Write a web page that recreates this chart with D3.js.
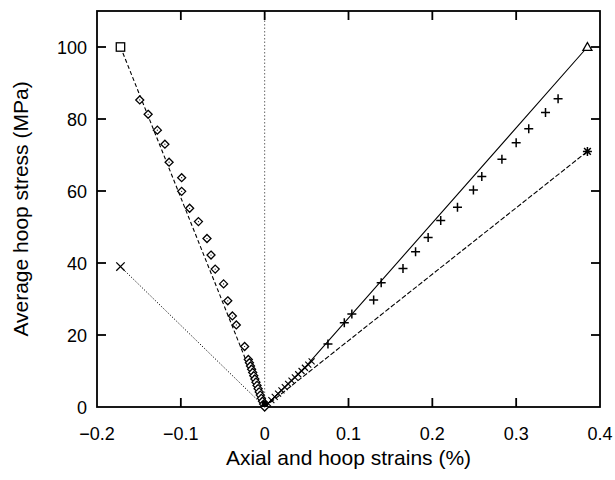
<!DOCTYPE html>
<html>
<head>
<meta charset="utf-8">
<script src="https://cdn.jsdelivr.net/npm/d3@7/dist/d3.min.js"></script>
<style>
  html, body { margin: 0; padding: 0; background: #fff; }
  svg { display: block; font-family: "Liberation Sans", Arial, Helvetica, sans-serif; }
</style>
</head>
<body>
<svg id="chart" width="615" height="480"></svg>
<script>
// ---- data ----
const xTicks = [-0.2, -0.1, 0, 0.1, 0.2, 0.3, 0.4];
const xTickLabels = ["\u22120.2", "\u22120.1", "0", "0.1", "0.2", "0.3", "0.4"];
const yTicks = [0, 20, 40, 60, 80, 100];
const yTickLabels = ["0", "20", "40", "60", "80", "100"];

// measured axial strain (diamonds)
const axialX = [-0.149, -0.139, -0.128, -0.119, -0.114, -0.099, -0.099, -0.0895, -0.0790, -0.0688, -0.0640, -0.0590, -0.0490, -0.0440, -0.0385, -0.0338, -0.0239,
  -0.0195, -0.0182, -0.0169, -0.0156, -0.0143, -0.0130, -0.0117, -0.0104, -0.0091, -0.0078, -0.0065, -0.0052, -0.0039, -0.0026, -0.0013, 0];
const axialY = [85.3, 81.3, 76.9, 73.0, 68.0, 63.7, 59.9, 55.2, 51.5, 46.8, 42.2, 38.3, 34.2, 29.5, 25.3, 22.8, 16.8,
  13.2, 12.3, 11.4, 10.5, 9.6, 8.7, 7.8, 6.9, 6.0, 5.1, 4.2, 3.3, 2.4, 1.6, 0.8, 0];

// measured hoop strain (plus)
const hoopX = [0.0755, 0.095, 0.104, 0.130, 0.139, 0.165, 0.180, 0.195, 0.210, 0.230, 0.249, 0.259, 0.283, 0.300, 0.315, 0.335, 0.350];
const hoopY = [17.5, 23.4, 25.8, 29.7, 34.5, 38.5, 43.1, 47.1, 51.8, 55.5, 60.3, 64.0, 68.8, 73.4, 77.3, 81.8, 85.6];
// early hoop points (dense, near origin)
const hoopEarlyX = [0.004, 0.008, 0.012, 0.016, 0.020, 0.024, 0.028, 0.032, 0.036, 0.040, 0.044, 0.048, 0.052, 0.056];
const hoopEarlyY = [1.0, 1.9, 2.8, 3.7, 4.6, 5.5, 6.4, 7.3, 8.2, 9.1, 10.0, 10.9, 11.8, 12.7];

// prediction lines
const predAxialX = [-0.172, 0];      const predAxialY = [100, 0];   // dashed, square end
const predAxial2X = [-0.172, 0];     const predAxial2Y = [39, 0];   // dotted, cross end
const predHoopX = [0, 0.05, 0.385];  const predHoopY = [0, 11.5, 100]; // solid, triangle end
const predHoop2X = [0, 0.385];       const predHoop2Y = [0, 71];    // dashed, asterisk end

// ---- layout ----
const svg = d3.select("#chart");
const L = 97, R = 600, T = 11, B = 407;
const x = d3.scaleLinear().domain([-0.2, 0.4]).range([L, R]);
const y = d3.scaleLinear().domain([0, 110]).range([B, T]);

const zip = (xs, ys) => xs.map((v, i) => [v, ys[i]]);
const line = d3.line().x(d => x(d[0])).y(d => y(d[1]));

// zero vertical dotted line
svg.append("path").attr("d", line([[0, 0], [0, 110]]))
  .attr("stroke", "#666").attr("stroke-width", 1).attr("stroke-dasharray", "1.5,2").attr("fill", "none");

// prediction lines
svg.append("path").attr("d", line(zip(predAxialX, predAxialY)))
  .attr("stroke", "#000").attr("stroke-width", 1.1).attr("stroke-dasharray", "4,2.5").attr("fill", "none");
svg.append("path").attr("d", line(zip(predAxial2X, predAxial2Y)))
  .attr("stroke", "#000").attr("stroke-width", 1).attr("stroke-dasharray", "1.2,1.8").attr("fill", "none");
svg.append("path").attr("d", line(zip(predHoopX, predHoopY)))
  .attr("stroke", "#000").attr("stroke-width", 1.1).attr("fill", "none");
svg.append("path").attr("d", line(zip(predHoop2X, predHoop2Y)))
  .attr("stroke", "#000").attr("stroke-width", 1.1).attr("stroke-dasharray", "5,2").attr("fill", "none");

// frame
svg.append("rect").attr("x", L).attr("y", T).attr("width", R - L).attr("height", B - T)
  .attr("fill", "none").attr("stroke", "#000").attr("stroke-width", 1.8);

// ticks (inward, all four sides)
const tk = 9;
const inner = xTicks.filter(v => v > -0.2 && v < 0.4);
const g = svg.append("g").attr("stroke", "#000").attr("stroke-width", 1.8);
inner.forEach(v => {
  g.append("line").attr("x1", x(v)).attr("x2", x(v)).attr("y1", B).attr("y2", B - tk);
  g.append("line").attr("x1", x(v)).attr("x2", x(v)).attr("y1", T).attr("y2", T + tk);
});
yTicks.filter(v => v > 0).forEach(v => {
  g.append("line").attr("x1", L).attr("x2", L + tk).attr("y1", y(v)).attr("y2", y(v));
  g.append("line").attr("x1", R).attr("x2", R - tk).attr("y1", y(v)).attr("y2", y(v));
});

// tick labels
svg.append("g").selectAll("text").data(xTicks).join("text")
  .attr("x", d => x(d)).attr("y", 440).attr("text-anchor", "middle")
  .attr("font-size", 18).attr("fill", "#000")
  .text((d, i) => xTickLabels[i]);
svg.append("g").selectAll("text").data(yTicks).join("text")
  .attr("x", 87).attr("y", d => y(d) + 6.5).attr("text-anchor", "end")
  .attr("font-size", 18).attr("fill", "#000")
  .text((d, i) => yTickLabels[i]);

// axis titles
svg.append("text").attr("x", (L + R) / 2).attr("y", 465).attr("text-anchor", "middle")
  .attr("font-size", 21).attr("fill", "#000").text("Axial and hoop strains (%)");
svg.append("text").attr("transform", `translate(28,${(T + B) / 2}) rotate(-90)`)
  .attr("text-anchor", "middle").attr("font-size", 21).attr("fill", "#000")
  .text("Average hoop stress (MPa)");

// markers
const mk = svg.append("g").attr("fill", "none").attr("stroke", "#000").attr("stroke-width", 1.3);

// diamonds with center dot
zip(axialX, axialY).forEach(([a, b]) => {
  const cx = x(a), cy = y(b), r = 4;
  mk.append("path").attr("d", `M${cx},${cy - r}L${cx + r},${cy}L${cx},${cy + r}L${cx - r},${cy}Z`).attr("fill", "#fff");
  mk.append("circle").attr("cx", cx).attr("cy", cy).attr("r", 0.6).attr("fill", "#000").attr("stroke", "none");
});

// plus markers
zip(hoopX, hoopY).forEach(([a, b]) => {
  const cx = x(a), cy = y(b), r = 4.5;
  mk.append("path").attr("d", `M${cx - r},${cy}H${cx + r}M${cx},${cy - r}V${cy + r}`).attr("stroke-width", 1.5);
});
// dense early hoop points
zip(hoopEarlyX, hoopEarlyY).forEach(([a, b]) => {
  const cx = x(a), cy = y(b), r = 3;
  mk.append("path").attr("d", `M${cx - r},${cy - r}L${cx + r},${cy + r}M${cx - r},${cy + r}L${cx + r},${cy - r}`).attr("stroke-width", 1.1);
});

// end markers
{ // square
  const cx = x(predAxialX[0]), cy = y(predAxialY[0]), r = 4.2;
  mk.append("rect").attr("x", cx - r).attr("y", cy - r).attr("width", 2 * r).attr("height", 2 * r).attr("fill", "#fff");
}
{ // cross
  const cx = x(predAxial2X[0]), cy = y(predAxial2Y[0]), r = 4.2;
  mk.append("path").attr("d", `M${cx - r},${cy - r}L${cx + r},${cy + r}M${cx - r},${cy + r}L${cx + r},${cy - r}`);
}
{ // triangle
  const cx = x(predHoopX[2]), cy = y(predHoopY[2]), r = 4.5;
  mk.append("path").attr("d", `M${cx},${cy - r}L${cx + r},${cy + r * 0.75}L${cx - r},${cy + r * 0.75}Z`).attr("fill", "#fff");
}
{ // asterisk
  const cx = x(predHoop2X[1]), cy = y(predHoop2Y[1]), r = 4.5;
  mk.append("path").attr("d",
    `M${cx - r},${cy}H${cx + r}M${cx},${cy - r}V${cy + r}M${cx - r * 0.75},${cy - r * 0.75}L${cx + r * 0.75},${cy + r * 0.75}M${cx - r * 0.75},${cy + r * 0.75}L${cx + r * 0.75},${cy - r * 0.75}`)
    .attr("stroke-width", 1.5);
}
// origin blob
mk.append("rect").attr("x", x(0) - 3).attr("y", y(0) - 6).attr("width", 6).attr("height", 6).attr("fill", "#000").attr("stroke", "none");
</script>
</body>
</html>
